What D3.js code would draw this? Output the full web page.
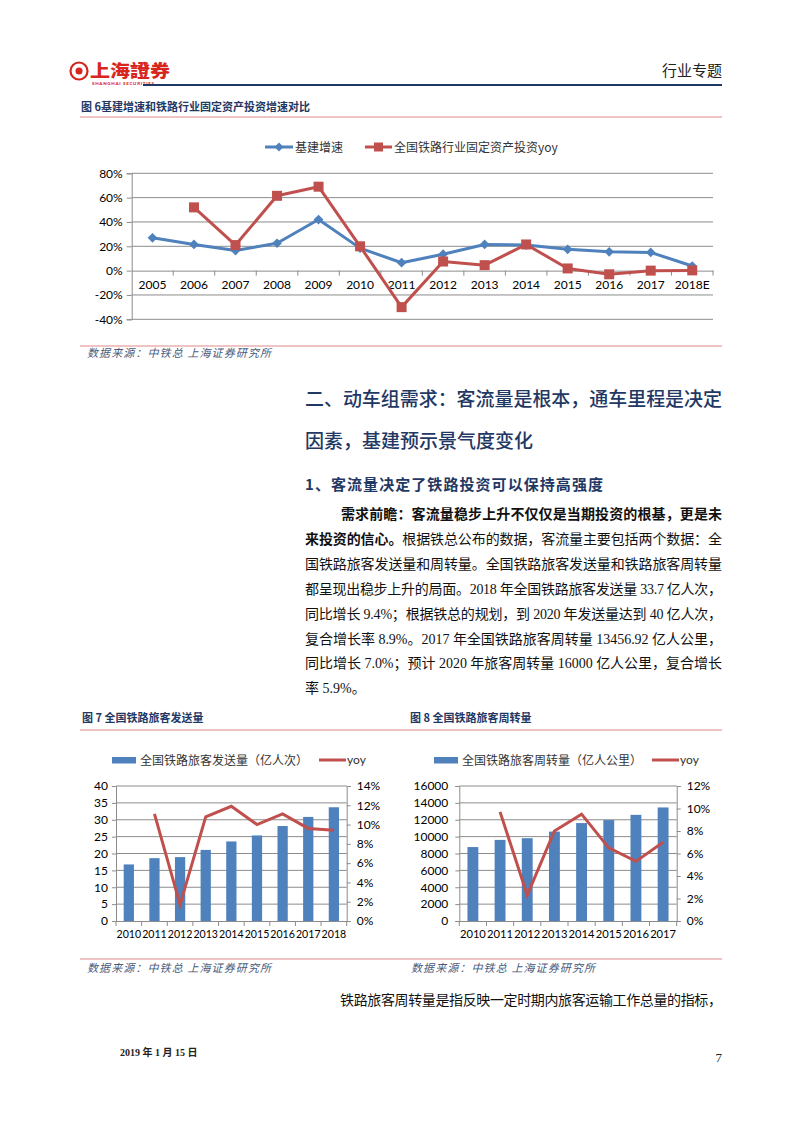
<!DOCTYPE html>
<html><head><meta charset="utf-8">
<script src="https://cdn.jsdelivr.net/npm/d3@7"></script>
<style>
body{margin:0;background:#fff;}
svg{display:block;}
</style></head><body>
<svg id="page" width="802" height="1133"></svg>
<script>
// ---------- DATA ----------
const years6 = ["2005","2006","2007","2008","2009","2010","2011","2012","2013","2014","2015","2016","2017","2018E"];
const infraGrowth = [27, 21.5, 16.5, 22.5, 42, 18.5, 6.5, 13.5, 21.5, 21, 17.5, 15.5, 15, 3.8];
const railInvestYoy = [null, 52, 21, 61.5, 69, 20, -30, 7.5, 4.5, 21.5, 1.8, -3, 0, 0.2];
const ticks6 = [-40, -20, 0, 20, 40, 60, 80];
const legend6 = ["基建增速", "全国铁路行业固定资产投资yoy"];

const years7 = ["2010","2011","2012","2013","2014","2015","2016","2017","2018"];
const passengers = [16.76, 18.62, 18.93, 21.06, 23.57, 25.35, 28.14, 30.84, 33.70];
const passengersYoy = [null, 11.1, 1.7, 10.8, 11.9, 10.0, 11.1, 9.6, 9.4];
const ticks7L = [0, 5, 10, 15, 20, 25, 30, 35, 40];
const ticks7R = [0, 2, 4, 6, 8, 10, 12, 14];
const legend7 = ["全国铁路旅客发送量（亿人次）", "yoy"];

const years8 = ["2010","2011","2012","2013","2014","2015","2016","2017"];
const pkm = [8762, 9612, 9812, 10596, 11605, 11961, 12579, 13457];
const pkmYoy = [null, 9.7, 2.3, 8.0, 9.5, 6.5, 5.3, 7.0];
const ticks8L = [0, 2000, 4000, 6000, 8000, 10000, 12000, 14000, 16000];
const ticks8R = [0, 2, 4, 6, 8, 10, 12];
const legend8 = ["全国铁路旅客周转量（亿人公里）", "yoy"];

// ---------- STYLE ----------
const BLUE = "#4F81BD", RED = "#C0504D", NAVY = "#1F3864", GRID = "#8C8C8C", RULE = "#E08A8A";
const CJK = "'Noto Sans CJK SC', sans-serif";
const NUM = "Lato, 'Noto Sans CJK SC', sans-serif";
const SERIF = "'Liberation Serif', 'Noto Sans CJK SC', serif";

const svg = d3.select("#page");

// ---------- HEADER ----------
const logo = svg.append("g");
logo.append("circle").attr("cx", 79).attr("cy", 71).attr("r", 8.5).attr("fill", "none").attr("stroke", "#D7261E").attr("stroke-width", 2.2);
logo.append("circle").attr("cx", 79).attr("cy", 71).attr("r", 3.5).attr("fill", "#D7261E");
logo.append("text").attr("x", 90).attr("y", 77).attr("font-family", "'Noto Sans CJK TC', sans-serif").attr("font-weight", 900)
  .attr("font-size", 17).attr("fill", "#D7261E").attr("textLength", 80).attr("lengthAdjust", "spacingAndGlyphs").text("上海證券");
logo.append("text").attr("x", 92).attr("y", 85).attr("font-family", "Lato, sans-serif").attr("font-weight", 900)
  .attr("font-size", 4.5).attr("fill", "#D7261E").attr("textLength", 62).text("SHANGHAI SECURITIES");
svg.append("text").attr("x", 722).attr("y", 76).attr("text-anchor", "end").attr("font-family", CJK)
  .attr("font-size", 15).attr("fill", "#222").text("行业专题");
svg.append("line").attr("x1", 143).attr("x2", 722).attr("y1", 85).attr("y2", 85).attr("stroke", NAVY).attr("stroke-width", 2);

// ---------- helpers ----------
function rule(y, x1 = 80, x2 = 722) {
  svg.append("line").attr("x1", x1).attr("x2", x2).attr("y1", y).attr("y2", y).attr("stroke", RULE).attr("stroke-width", 1.2);
}
function figTitle(x, y, t) {
  svg.append("text").attr("x", x).attr("y", y).attr("font-family", CJK).attr("font-weight", 700)
    .attr("font-size", 11).attr("fill", NAVY).attr("xml:space", "preserve").text(t);
}
function source(x, y) {
  svg.append("text").attr("x", x).attr("y", y).attr("font-family", CJK).attr("font-style", "italic")
    .attr("font-size", 11).attr("fill", "#4A5A7A").attr("textLength", 184).attr("xml:space", "preserve")
    .text("数据来源：中铁总 上海证券研究所");
}
function styleAxis(g) {
  g.selectAll(".domain").attr("stroke", GRID);
  g.selectAll(".tick line").attr("stroke", GRID);
  g.selectAll(".tick text").attr("fill", "#000");
}

// ---------- FIGURE 6 ----------
figTitle(81, 111, "图 6基建增速和铁路行业固定资产投资增速对比");
rule(117);
{
  const x = d3.scaleBand().domain(years6).range([131.7, 713]);
  const y = d3.scaleLinear().domain([-40, 80]).range([319.3, 173.3]);
  const g = svg.append("g");
  g.selectAll(".grid").data(ticks6.filter(d => d !== 0)).join("line")
    .attr("x1", x.range()[0]).attr("x2", x.range()[1]).attr("y1", d => y(d)).attr("y2", d => y(d))
    .attr("stroke", GRID).attr("stroke-width", 1);
  const ya = g.append("g").attr("transform", `translate(${x.range()[0]},0)`)
    .call(d3.axisLeft(y).tickValues(ticks6).tickSize(5).tickPadding(4).tickFormat(d => d + "%"));
  ya.attr("font-family", NUM).attr("font-size", 12);
  styleAxis(ya);
  const xa = g.append("g").attr("transform", `translate(0,${y(0)})`)
    .call(d3.axisBottom(x).tickSize(0).tickPadding(10));
  xa.attr("font-family", NUM).attr("font-size", 12);
  styleAxis(xa);
  g.selectAll(".btick").data(years6.slice(1)).join("line")
    .attr("x1", d => x(d)).attr("x2", d => x(d)).attr("y1", y(0)).attr("y2", y(0) + 5).attr("stroke", GRID);
  g.append("line").attr("x1", x.range()[1]).attr("x2", x.range()[1]).attr("y1", y(0)).attr("y2", y(0) + 5).attr("stroke", GRID);

  const cx = d => x(d) + x.bandwidth() / 2;
  const lineB = d3.line().x((d, i) => cx(years6[i])).y(d => y(d));
  g.append("path").datum(infraGrowth).attr("d", lineB).attr("fill", "none").attr("stroke", BLUE).attr("stroke-width", 3).attr("stroke-linejoin", "round");
  g.selectAll(".dia").data(infraGrowth).join("path")
    .attr("d", d3.symbol().type(d3.symbolDiamond2).size(60))
    .attr("transform", (d, i) => `translate(${cx(years6[i])},${y(d)})`).attr("fill", BLUE);
  const lineR = d3.line().defined(d => d !== null).x((d, i) => cx(years6[i])).y(d => y(d));
  g.append("path").datum(railInvestYoy).attr("d", lineR).attr("fill", "none").attr("stroke", RED).attr("stroke-width", 3).attr("stroke-linejoin", "round");
  g.selectAll(".sq").data(railInvestYoy.map((d, i) => ({ d, i })).filter(o => o.d !== null)).join("rect")
    .attr("x", o => cx(years6[o.i]) - 5).attr("y", o => y(o.d) - 5).attr("width", 10).attr("height", 10).attr("fill", RED);

  const lg = g.append("g").attr("font-family", CJK).attr("font-size", 12).attr("fill", "#333");
  lg.append("line").attr("x1", 265).attr("x2", 293).attr("y1", 147).attr("y2", 147).attr("stroke", BLUE).attr("stroke-width", 3);
  lg.append("path").attr("d", d3.symbol().type(d3.symbolDiamond2).size(50)).attr("transform", "translate(279,147)").attr("fill", BLUE);
  lg.append("text").attr("x", 295).attr("y", 151.5).text(legend6[0]);
  lg.append("line").attr("x1", 365).attr("x2", 392).attr("y1", 147).attr("y2", 147).attr("stroke", RED).attr("stroke-width", 3);
  lg.append("rect").attr("x", 374).attr("y", 142.5).attr("width", 9).attr("height", 9).attr("fill", RED);
  lg.append("text").attr("x", 394).attr("y", 151.5).text(legend6[1]);
}
rule(346);
source(87, 357);

// ---------- SECTION TEXT ----------
function hline(x, y, t, size, weight, len, fam = CJK, color = NAVY) {
  const el = svg.append("text").attr("x", x).attr("y", y).attr("font-family", fam).attr("font-size", size)
    .attr("font-weight", weight).attr("fill", color);
  if (len) el.attr("textLength", len).attr("lengthAdjust", "spacing");
  el.text(t);
  return el;
}
hline(305, 406, "二、动车组需求：客流量是根本，通车里程是决定", 19, 500, 417);
hline(305, 448, "因素，基建预示景气度变化", 19, 500, null);
hline(305, 490, "1、客流量决定了铁路投资可以保持高强度", 15, 700, 298);

const body = [
  { x: 341, parts: [["需求前瞻：客流量稳步上升不仅仅是当期投资的根基，更是未", 700]] },
  { x: 305, parts: [["来投资的信心。", 700], ["根据铁总公布的数据，客流量主要包括两个数据：全", 400]] },
  { x: 305, parts: [["国铁路旅客发送量和周转量。全国铁路旅客发送量和铁路旅客周转量", 400]] },
  { x: 305, parts: [["都呈现出稳步上升的局面。2018 年全国铁路旅客发送量 33.7 亿人次，", 400]] },
  { x: 305, parts: [["同比增长 9.4%；根据铁总的规划，到 2020 年发送量达到 40 亿人次，", 400]] },
  { x: 305, parts: [["复合增长率 8.9%。2017 年全国铁路旅客周转量 13456.92 亿人公里，", 400]] },
  { x: 305, parts: [["同比增长 7.0%；预计 2020 年旅客周转量 16000 亿人公里，复合增长", 400]] },
  { x: 305, parts: [["率 5.9%。", 400]], last: true }
];
body.forEach((ln, i) => {
  const t = svg.append("text").attr("x", ln.x).attr("y", 519 + i * 24.9).attr("font-family", SERIF)
    .attr("font-size", 14).attr("fill", "#111").attr("xml:space", "preserve");
  if (!ln.last) t.attr("textLength", 722 - ln.x).attr("lengthAdjust", "spacing");
  ln.parts.forEach(p => t.append("tspan").attr("font-weight", p[1]).text(p[0]));
});

// ---------- FIGURES 7 & 8 ----------
figTitle(82, 722, "图 7 全国铁路旅客发送量");
figTitle(410, 722, "图 8 全国铁路旅客周转量");
rule(730);

function barLine(cfg) {
  const x = d3.scaleBand().domain(cfg.years).range(cfg.xr);
  const yL = d3.scaleLinear().domain([0, cfg.ticksL[cfg.ticksL.length - 1]]).range([921, 786]);
  const yR = d3.scaleLinear().domain([0, cfg.ticksR[cfg.ticksR.length - 1]]).range([921, 786]);
  const g = svg.append("g");
  g.selectAll(".grid").data(cfg.ticksL.slice(1)).join("line")
    .attr("x1", cfg.xr[0]).attr("x2", cfg.xr[1]).attr("y1", d => yL(d)).attr("y2", d => yL(d)).attr("stroke", GRID);
  const bw = x.bandwidth() * cfg.barFrac;
  g.selectAll(".bar").data(cfg.bars).join("rect")
    .attr("x", (d, i) => x(cfg.years[i]) + (x.bandwidth() - bw) / 2).attr("width", bw)
    .attr("y", d => yL(d)).attr("height", d => yL(0) - yL(d)).attr("fill", BLUE);
  const la = g.append("g").attr("transform", `translate(${cfg.xr[0]},0)`)
    .call(d3.axisLeft(yL).tickValues(cfg.ticksL).tickSize(4).tickPadding(cfg.padL).tickFormat(d3.format("d")));
  const ra = g.append("g").attr("transform", `translate(${cfg.xr[1]},0)`)
    .call(d3.axisRight(yR).tickValues(cfg.ticksR).tickSize(4).tickPadding(6).tickFormat(d => d + "%"));
  const ba = g.append("g").attr("transform", `translate(0,921)`)
    .call(d3.axisBottom(x).tickSize(0).tickPadding(9));
  [la, ra, ba].forEach(a => { a.attr("font-family", NUM).attr("font-size", cfg.fs); styleAxis(a); });
  ba.attr("font-size", cfg.xfs);
  g.selectAll(".bt").data(cfg.years.concat(["end"])).join("line")
    .attr("x1", (d, i) => i < cfg.years.length ? x(d) : cfg.xr[1]).attr("x2", (d, i) => i < cfg.years.length ? x(d) : cfg.xr[1])
    .attr("y1", 921).attr("y2", 926).attr("stroke", GRID);
  const cx = i => x(cfg.years[i]) + x.bandwidth() / 2;
  const ln = d3.line().defined(d => d !== null).x((d, i) => cx(i)).y(d => yR(d));
  g.append("path").datum(cfg.yoy).attr("d", ln).attr("fill", "none").attr("stroke", RED).attr("stroke-width", 3).attr("stroke-linejoin", "miter");
  const lg = g.append("g").attr("font-family", CJK).attr("font-size", 12).attr("fill", "#333");
  lg.append("rect").attr("x", cfg.lg[0]).attr("y", 757).attr("width", 24).attr("height", 6.5).attr("fill", BLUE);
  lg.append("text").attr("x", cfg.lg[0] + 28).attr("y", 764.5).text(cfg.legend[0]);
  lg.append("line").attr("x1", cfg.lg[1]).attr("x2", cfg.lg[1] + 27).attr("y1", 760).attr("y2", 760).attr("stroke", RED).attr("stroke-width", 3);
  lg.append("text").attr("x", cfg.lg[1] + 28).attr("y", 764).attr("font-family", NUM).text(cfg.legend[1]);
}
barLine({ years: years7, bars: passengers, yoy: passengersYoy, ticksL: ticks7L, ticksR: ticks7R, legend: legend7,
  xr: [116, 346.7], barFrac: 0.4, padL: 4, fs: 12, xfs: 10.6, lg: [112, 319] });
barLine({ years: years8, bars: pkm, yoy: pkmYoy, ticksL: ticks8L, ticksR: ticks8R, legend: legend8,
  xr: [459.3, 676.7], barFrac: 0.4, padL: 7, fs: 12, xfs: 11.2, lg: [434, 652] });

rule(959);
source(87, 972);
source(411, 972);

// ---------- TRAILING TEXT & FOOTER ----------
svg.append("text").attr("x", 340).attr("y", 1005).attr("font-family", SERIF).attr("font-size", 14).attr("fill", "#111")
  .attr("textLength", 382).attr("lengthAdjust", "spacing").text("铁路旅客周转量是指反映一定时期内旅客运输工作总量的指标，");
svg.append("text").attr("x", 120).attr("y", 1056).attr("font-family", SERIF).attr("font-size", 10).attr("font-weight", 700)
  .attr("fill", "#222").attr("xml:space", "preserve").text("2019 年 1 月 15 日");
svg.append("text").attr("x", 722).attr("y", 1062).attr("text-anchor", "end").attr("font-family", SERIF).attr("font-size", 13)
  .attr("fill", "#222").text("7");
</script>
</body></html>
